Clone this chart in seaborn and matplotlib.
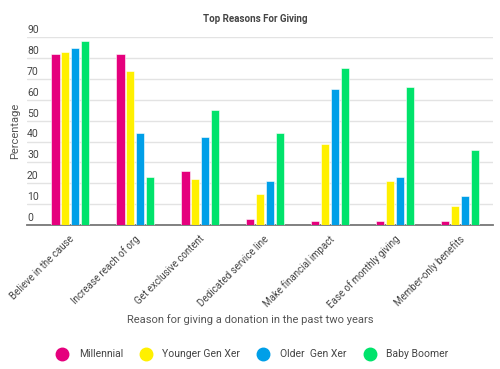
import pandas as pd
import matplotlib.pyplot as plt
import seaborn as sns
from matplotlib.lines import Line2D

reasons = ['Believe in the cause', 'Increase reach of org', 'Get exclusive content',
           'Dedicated service line', 'Make financial impact', 'Ease of monthly giving',
           'Member-only benefits']
generations = ['Millennial', 'Younger Gen Xer', 'Older  Gen Xer', 'Baby Boomer']
millennial = [82, 82, 26, 3, 2, 2, 2]
younger_genx = [83, 74, 22, 15, 39, 21, 9]
older_genx = [85, 44, 42, 21, 65, 23, 14]
baby_boomer = [88, 23, 55, 44, 75, 66, 36]
colors = ['#E5007D', '#FFF000', '#009FE8', '#00E36B']
yticks = [0, 10, 20, 30, 40, 50, 60, 70, 80, 90]

df = pd.DataFrame({'Reason': reasons, generations[0]: millennial,
                   generations[1]: younger_genx, generations[2]: older_genx,
                   generations[3]: baby_boomer})
df = df.melt(id_vars='Reason', var_name='Generation', value_name='Percentage')

sns.set_style('white')
plt.rcParams['font.family'] = ['Roboto', 'DejaVu Sans']

fig = plt.figure(figsize=(5, 3.69), dpi=100)
ax = fig.add_axes([0.054, 0.390, 0.932, 0.5095])

sns.barplot(data=df, x='Reason', y='Percentage', hue='Generation', order=reasons,
            hue_order=generations, palette=colors, saturation=1, width=0.61, gap=0.16,
            edgecolor='white', linewidth=0.4, ax=ax, legend=False, zorder=3)

ax.set_ylim(0, 90)
ax.set_xlim(-0.665, 6.505)
ax.set_yticks(yticks)
ax.grid(axis='y', color='#e3e3e3', linewidth=1, zorder=0)
ax.set_yticklabels([])
ax.tick_params(axis='y', length=0)
for v in yticks:
    ax.text(0.0, v + 1.0, str(v), transform=ax.get_yaxis_transform(), ha='left',
            va='bottom', fontsize=7.5, color='#444444')

ax.set_xticks([i - 0.5 for i in range(8)])
ax.set_xticklabels([])
ax.tick_params(axis='x', length=4, width=1, color='#777777', direction='out')
for i, r in enumerate(reasons):
    ax.text(i - 0.02, -0.045, r, transform=ax.get_xaxis_transform(), rotation=45,
            ha='right', va='top', rotation_mode='anchor', fontsize=7, color='#444444')

for s in ['top', 'right', 'left']:
    ax.spines[s].set_visible(False)
ax.spines['bottom'].set_color('#777777')
ax.spines['bottom'].set_linewidth(1.3)

ax.set_xlabel('')
ax.set_ylabel('')
fig.text(0.03, 0.645, 'Percentage', rotation=90, ha='center', va='center',
         fontsize=8, color='#555555')
fig.text(0.5, 0.135, 'Reason for giving a donation in the past two years',
         ha='center', va='center', fontsize=8, color='#555555')
fig.text(0.51, 0.948, 'Top Reasons For Giving', ha='center', va='center',
         fontsize=7, fontweight='bold', color='#444444')

handles = [Line2D([0], [0], marker='o', linestyle='', markersize=9,
                  markerfacecolor=c, markeredgecolor=c) for c in colors]
fig.legend(handles, generations, loc='center', bbox_to_anchor=(0.5, 0.04), ncol=4,
           frameon=False, fontsize=7.5, labelcolor='#444444', handletextpad=0.6,
           columnspacing=1.2)

plt.savefig('out.png', dpi=100)
plt.close()
